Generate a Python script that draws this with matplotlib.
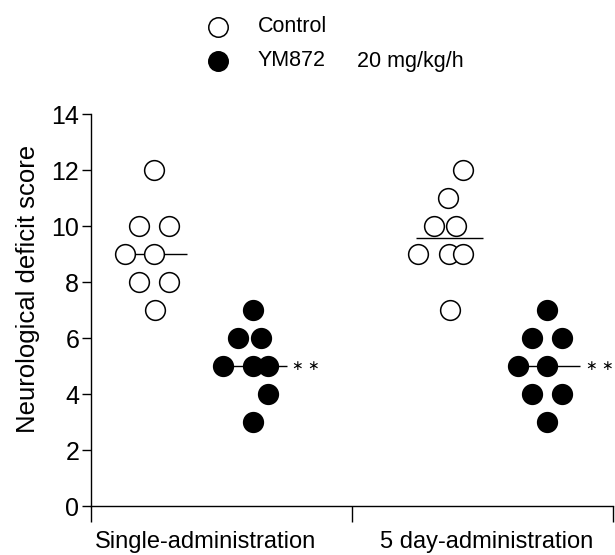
import matplotlib
matplotlib.use("Agg")
import matplotlib.pyplot as plt
from matplotlib.lines import Line2D

plt.rcParams['font.family'] = ['Liberation Sans', 'DejaVu Sans']

# ---- data ----
groups = ["Single-administration", "5 day-administration"]
series_names = ["Control", "YM872"]
dose_label = "20 mg/kg/h"
control_single = [12, 10, 10, 9, 9, 8, 8, 7]
ym872_single = [7, 6, 6, 5, 5, 5, 4, 3]
control_5day = [12, 11, 10, 10, 9, 9, 9, 7]
ym872_5day = [7, 6, 6, 5, 5, 4, 4, 3]
center_lines = [9, 5, 9.57, 5]
significance = ["∗ ∗", "∗ ∗"]
y_ticks = [0, 2, 4, 6, 8, 10, 12, 14]

# ---- layout (positions only) ----
centers = [0.241, 0.62, 1.372, 1.747]
offsets = [
    [0, -0.057, 0.057, -0.111, 0, -0.057, 0.057, 0.004],
    [0, -0.057, 0.031, -0.115, 0, 0.057, 0.057, 0],
    [0.054, -0.004, -0.057, 0.027, -0.119, 0, 0.054, 0.004],
    [0, -0.057, 0.057, -0.111, 0, -0.057, 0.057, 0],
]
line_span = [(-0.111, 0.126), (-0.115, 0.130), (-0.126, 0.130), (-0.111, 0.126)]
label_pos = [0.437, 1.517]

fig = plt.figure(figsize=(6.15, 5.55), dpi=100)
ax = fig.add_axes([91/615, 49/555, 522/615, 392/555])

all_vals = [control_single, ym872_single, control_5day, ym872_5day]
filled = [False, True, False, True]
for i, vals in enumerate(all_vals):
    xs = [centers[i] + o for o in offsets[i]]
    a, b = line_span[i]
    ax.plot([centers[i] + a, centers[i] + b], [center_lines[i]] * 2,
            color='black', lw=1.0, zorder=2, solid_capstyle='butt')
    ax.plot(xs, vals, 'o', ms=14.2,
            mfc='black' if filled[i] else 'white',
            mec='black', mew=1.1, zorder=3, clip_on=False)

for k, i in enumerate([1, 3]):
    ax.text(centers[i] + line_span[i][1] + 0.022, center_lines[i], significance[k],
            fontsize=10, va='center', ha='left', family=['DejaVu Sans'])

ax.set_xlim(0, 2)
ax.set_ylim(0, 14)
ax.set_yticks(y_ticks)
ax.set_yticklabels([str(t) for t in y_ticks])
ax.set_xticks([0, 1, 2])
ax.set_xticklabels(['', '', ''])
ax.set_xticks(label_pos, minor=True)
ax.set_xticklabels(groups, minor=True)
ax.tick_params(axis='x', which='major', direction='out', length=11.5, width=1.0)
ax.tick_params(axis='x', which='minor', length=0, labelsize=17, pad=18)
ax.tick_params(axis='y', direction='out', length=6.5, width=1.0, labelsize=18, pad=2)
for s in ['top', 'right']:
    ax.spines[s].set_visible(False)
for s in ['left', 'bottom']:
    ax.spines[s].set_linewidth(1.0)
ax.set_ylabel("Neurological deficit score", fontsize=18.5)
ax.yaxis.set_label_coords(-0.097, 0.554)

# legend
fig.add_artist(Line2D([218/615], [1 - 27/555], marker='o', ms=14, mfc='white',
                      mec='black', mew=1.1, transform=fig.transFigure))
fig.add_artist(Line2D([218/615], [1 - 61/555], marker='o', ms=14, mfc='black',
                      mec='black', mew=1.1, transform=fig.transFigure))
fig.text(258/615, 1 - 27/555, series_names[0], fontsize=15.5, va='center', ha='left')
fig.text(258/615, 1 - 61/555, series_names[1], fontsize=15.5, va='center', ha='left')
fig.text(357/615, 1 - 61/555, dose_label, fontsize=15.5, va='center', ha='left')

fig.savefig("out.png", dpi=100)
